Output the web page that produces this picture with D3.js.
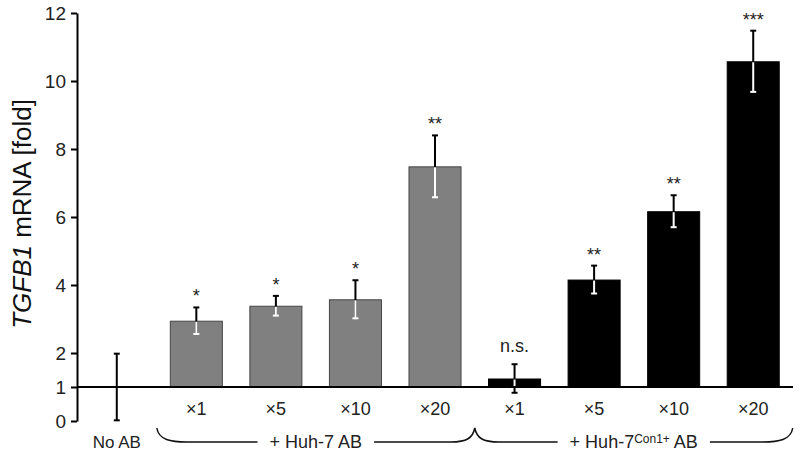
<!DOCTYPE html>
<html><head><meta charset="utf-8">
<script src="https://cdn.jsdelivr.net/npm/d3@7"></script>
<style>body{margin:0;background:#fff}svg{display:block;font-family:"Liberation Sans",Arial,sans-serif}</style>
</head><body>
<svg id="c" width="800" height="454"></svg>
<script>
const categories = ["No AB","Huh7 x1","Huh7 x5","Huh7 x10","Huh7 x20","Con1 x1","Con1 x5","Con1 x10","Con1 x20"];
const doseLabels = ["", "×1", "×5", "×10", "×20", "×1", "×5", "×10", "×20"];
const values = [1.00, 2.95, 3.39, 3.58, 7.49, 1.25, 4.16, 6.17, 10.58];
const errors = [0.98, 0.39, 0.29, 0.56, 0.91, 0.42, 0.41, 0.47, 0.90];
const groups = ["none","huh7","huh7","huh7","huh7","con1","con1","con1","con1"];
const signif = ["", "*", "*", "*", "**", "n.s.", "**", "**", "***"];
const yTicks = [0, 1, 2, 4, 6, 8, 10, 12];
const baselineValue = 1;

const svg = d3.select("#c");
const x = d3.scaleBand().domain(categories).range([77, 793]).paddingInner(1/3).paddingOuter(1/6);
const y = d3.scaleLinear().domain([0, 12]).range([421, 13]);
const fill = {none:"none", huh7:"#808080", con1:"#000000"};
const stroke = {none:"none", huh7:"#454545", con1:"#000000"};

// bars (from baseline 1)
categories.forEach((c,i)=>{
  if (groups[i]==="none") return;
  svg.append("rect")
    .attr("x", x(c)+0.5).attr("width", x.bandwidth()-1)
    .attr("y", y(values[i])+0.5).attr("height", y(baselineValue)-y(values[i])-1)
    .attr("fill", fill[groups[i]]).attr("stroke", stroke[groups[i]]).attr("stroke-width",1);
});

// baseline line at 1
svg.append("line").attr("x1", 77).attr("x2", 793)
  .attr("y1", y(baselineValue)).attr("y2", y(baselineValue))
  .attr("stroke","#000").attr("stroke-width",2);

// error bars
const capW = 3;
categories.forEach((c,i)=>{
  const cx = x(c) + x.bandwidth()/2;
  const hi = values[i]+errors[i], lo = Math.max(0, values[i]-errors[i]);
  const g = svg.append("g").attr("stroke-width",2);
  g.append("line").attr("x1",cx).attr("x2",cx).attr("y1",y(hi)).attr("y2",y(lo)).attr("stroke","#000");
  g.append("line").attr("x1",cx-capW).attr("x2",cx+capW).attr("y1",y(hi)).attr("y2",y(hi)).attr("stroke","#000");
  if (groups[i]==="none") {
    g.append("line").attr("x1",cx-capW).attr("x2",cx+capW).attr("y1",y(lo)).attr("y2",y(lo)).attr("stroke","#000");
  } else {
    const inLo = Math.max(lo, baselineValue);
    g.append("line").attr("x1",cx).attr("x2",cx).attr("y1",y(values[i])+1).attr("y2",y(inLo)-(lo<baselineValue?1:0)).attr("stroke","#fff");
    g.append("line").attr("x1",cx-capW).attr("x2",cx+capW).attr("y1",y(lo)).attr("y2",y(lo)).attr("stroke", lo>=baselineValue?"#fff":"#000");
  }
  const s = signif[i];
  if (s) {
    const isStar = s.indexOf("*")>=0;
    svg.append("text").attr("x",cx).attr("y", y(hi) - (isStar?5:12))
      .attr("text-anchor","middle").attr("font-size", 18).attr("fill","#222").text(s);
  }
});

// y axis
const ax = svg.append("g").attr("transform","translate(77,0)")
  .call(d3.axisLeft(y).tickValues(yTicks).tickSize(6).tickSizeOuter(0).tickPadding(5).tickFormat(d3.format("d")));
ax.select(".domain").attr("stroke","#000").attr("stroke-width",2);
ax.selectAll(".tick line").attr("stroke","#000").attr("stroke-width",2);
ax.selectAll(".tick text").attr("font-size",19).attr("fill","#222").attr("font-family","Liberation Sans, Arial, sans-serif");

// y label
const yl = svg.append("text").attr("transform","translate(31,214) rotate(-90)")
  .attr("text-anchor","middle").attr("font-size",26).attr("fill","#111");
yl.append("tspan").attr("font-style","italic").text("TGFB1");
yl.append("tspan").text(" mRNA [fold]");

// dose labels
categories.forEach((c,i)=>{
  if (!doseLabels[i]) return;
  svg.append("text").attr("x", x(c)+x.bandwidth()/2).attr("y", 415)
    .attr("text-anchor","middle").attr("font-size",18).attr("fill","#222").text(doseLabels[i]);
});
svg.append("text").attr("x", x(categories[0])+x.bandwidth()/2).attr("y", 448)
  .attr("text-anchor","middle").attr("font-size",17).attr("fill","#222").text("No AB");

// group labels + braces
const braceBase = 442, braceTop = 428;
const leftEnd = x(categories[1]) - 13;
const cusp = (x(categories[4]) + x.bandwidth() + x(categories[5]))/2;
const rightEnd = x(categories[8]) + x.bandwidth() + 13;

const t1 = svg.append("text").attr("x", (leftEnd+cusp)/2).attr("y", 448)
  .attr("text-anchor","middle").attr("font-size",18).attr("fill","#222").text("+ Huh-7 AB");
const t2 = svg.append("text").attr("x", (cusp+rightEnd)/2).attr("y", 448)
  .attr("text-anchor","middle").attr("font-size",18).attr("fill","#222");
t2.append("tspan").text("+ Huh-7");
t2.append("tspan").attr("font-size",12).attr("dy",-5).text("Con1+");
t2.append("tspan").attr("dy",5).text(" AB");

const b1 = t1.node().getBBox(), b2 = t2.node().getBBox();
const gap = 12;
const p = d3.path();
p.moveTo(leftEnd, braceTop);
p.bezierCurveTo(leftEnd+2, braceBase-2, leftEnd+14, braceBase, leftEnd+30, braceBase);
p.lineTo(b1.x-gap, braceBase);
p.moveTo(b1.x+b1.width+gap, braceBase);
p.lineTo(cusp-24, braceBase);
p.bezierCurveTo(cusp-8, braceBase, cusp-2, braceBase-4, cusp, braceTop);
p.bezierCurveTo(cusp+2, braceBase-4, cusp+8, braceBase, cusp+24, braceBase);
p.lineTo(b2.x-gap, braceBase);
p.moveTo(b2.x+b2.width+gap, braceBase);
p.lineTo(rightEnd-30, braceBase);
p.bezierCurveTo(rightEnd-14, braceBase, rightEnd-2, braceBase-2, rightEnd, braceTop);
svg.append("path").attr("d", p.toString()).attr("fill","none").attr("stroke","#111").attr("stroke-width",1.5);
</script>
</body></html>
